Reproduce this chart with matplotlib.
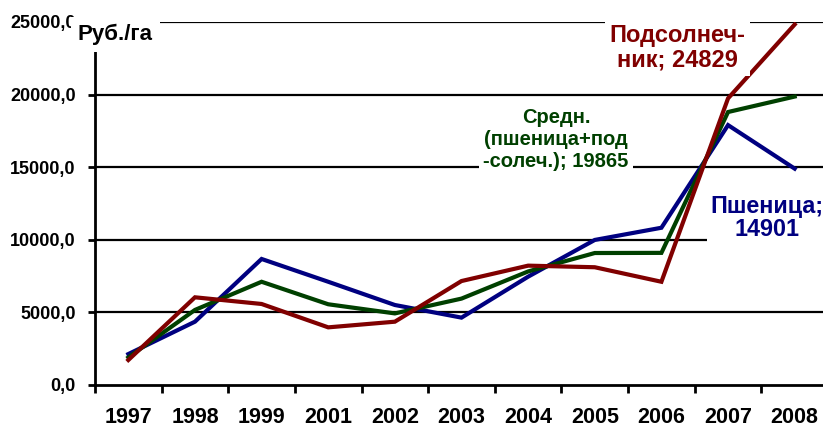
import matplotlib
matplotlib.use("Agg")
import matplotlib.pyplot as plt
from matplotlib.ticker import FixedLocator, FuncFormatter

years = ["1997", "1998", "1999", "2001", "2002", "2003", "2004", "2005", "2006", "2007", "2008"]
wheat = [2130, 4360, 8680, 7110, 5510, 4640, 7460, 9990, 10830, 17900, 14901]
sunflower = [1720, 6040, 5580, 3970, 4360, 7160, 8220, 8110, 7110, 19740, 24829]
average = [1900, 5170, 7110, 5560, 4930, 5950, 7820, 9090, 9100, 18800, 19865]
yticks = [0, 5000, 10000, 15000, 20000, 25000]

plt.rcParams['font.family'] = ['Liberation Sans', 'DejaVu Sans']
plt.rcParams['font.weight'] = 'bold'

W, H = 823, 428
fig = plt.figure(figsize=(W / 100, H / 100), dpi=100)
ax = fig.add_axes([95 / W, (H - 385) / H, 733 / W, (385 - 22) / H])

x = list(range(len(years)))
c_red = "#800000"
c_blue = "#000080"
c_green = "#004000"
ax.plot(x, wheat, color=c_blue, lw=3, zorder=3, solid_joinstyle='miter')
ax.plot(x, average, color=c_green, lw=3, zorder=3, solid_joinstyle='miter')
ax.plot(x, sunflower, color=c_red, lw=3, zorder=3, solid_joinstyle='miter')

ax.set_xlim(-0.5, len(years) - 0.5)
ax.set_ylim(0, 25000)

for s in ['top', 'right']:
    ax.spines[s].set_visible(False)
for s in ['left', 'bottom']:
    ax.spines[s].set_linewidth(2)
ax.spines['left'].set_bounds(0, 23050)

for v in yticks[1:]:
    ax.axhline(v, color='black', lw=1.6, zorder=1)

ax.set_yticks(yticks)
ax.yaxis.set_major_formatter(FuncFormatter(lambda v, p: f"{v:.1f}".replace('.', ',')))
ax.tick_params(axis='y', direction='out', length=5, width=2, pad=9, labelsize=13)

ax.xaxis.set_major_locator(FixedLocator([i - 0.5 for i in range(len(years) + 1)]))
ax.xaxis.set_minor_locator(FixedLocator(x))
ax.tick_params(axis='x', which='major', direction='out', length=6, width=2, labelbottom=False)
ax.tick_params(axis='x', which='minor', length=0, pad=16, labelsize=15.5)
ax.set_xticks(x, years, minor=True)
for lab in ax.get_xticklabels(minor=True) + ax.get_yticklabels():
    lab.set_fontweight('bold')

bb = dict(facecolor='white', edgecolor='none', pad=3)
ax.text(-0.76, 24170, "Руб./га", fontsize=16, fontweight='bold', ha='left', va='center',
        bbox=dict(facecolor='white', edgecolor='none', pad=5), zorder=10, clip_on=False)
ax.text(8.24, 23250, "Подсолнеч-\nник; 24829", fontsize=17, fontweight='bold', color=c_red,
        ha='center', va='center', linespacing=1.1, bbox=bb, zorder=5)
ax.text(6.42, 16900, "Средн.\n(пшеница+под\n-солеч.); 19865", fontsize=14.5, fontweight='bold',
        color=c_green, ha='center', va='center', linespacing=1.2, bbox=bb, zorder=5)
ax.text(9.59, 11500, "Пшеница;\n14901", fontsize=16.8, fontweight='bold', color=c_blue,
        ha='center', va='center', linespacing=1.05, bbox=bb, zorder=5)

fig.savefig("out.png", dpi=100)
